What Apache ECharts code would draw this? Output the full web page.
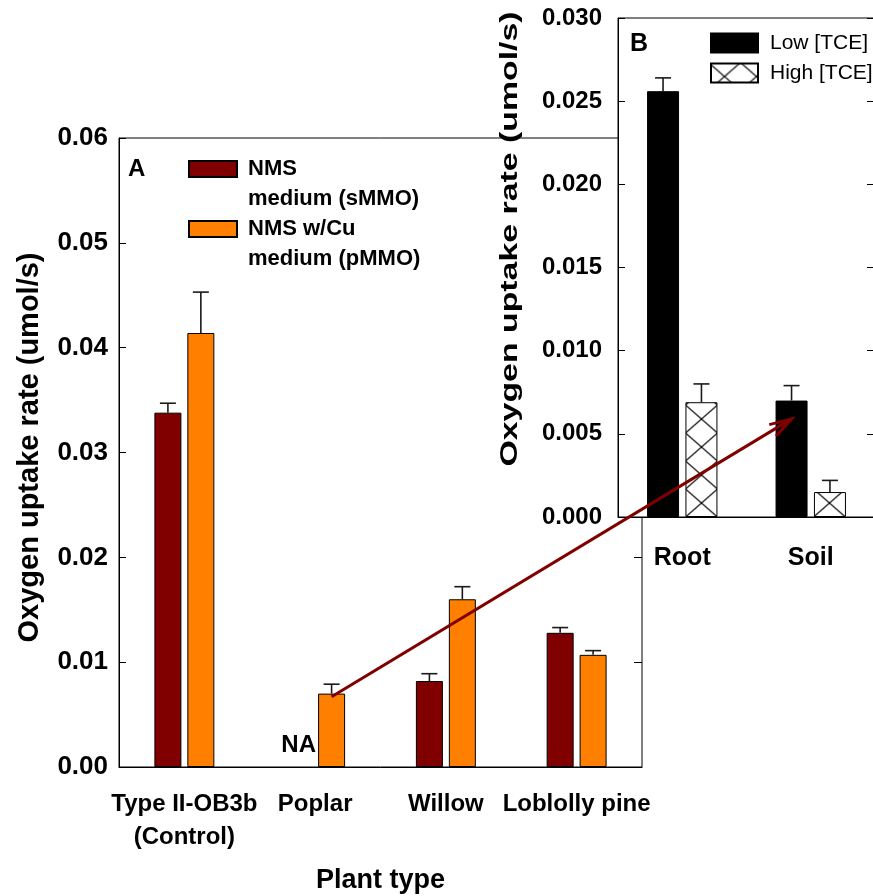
<!DOCTYPE html>
<html>
<head>
<meta charset="utf-8">
<script src="https://cdn.jsdelivr.net/npm/echarts@6/dist/echarts.min.js"></script>
<style>
  html, body { margin: 0; padding: 0; background: #fff; }
  #chart { width: 873px; height: 896px; }
</style>
</head>
<body>
<div id="chart"></div>
<script>
// Panel A: oxygen uptake by enrichment culture per plant type
const categoriesA = ['Type II-OB3b\n(Control)', 'Poplar', 'Willow', 'Loblolly pine'];
const smmoValues = [0.0338, null, 0.0082, 0.0128];   // null = not available
const smmoErrors = [0.0009, null, 0.0007, 0.0005];
const pmmoValues = [0.0414, 0.0070, 0.0160, 0.0107];
const pmmoErrors = [0.0039, 0.0009, 0.0012, 0.0004];

// Panel B: poplar culture, root vs soil, two TCE levels
const categoriesB = ['Root', 'Soil'];
const lowTceValues = [0.0256, 0.0070];
const lowTceErrors = [0.0008, 0.0009];
const highTceValues = [0.0069, 0.0015];
const highTceErrors = [0.0011, 0.0007];

// Arrow from the poplar pMMO bar in A to the soil bar in B (value anchors)
const arrowFrom = { category: 1, value: 0.0067 };
const arrowTo = { category: 1, value: 0.0059 };

const SERIES_A = ['NMS\nmedium (sMMO)', 'NMS w/Cu\nmedium (pMMO)'];
const SERIES_B = ['Low [TCE]', 'High [TCE]'];

const FONT = '"Liberation Sans", Arial, Helvetica, sans-serif';
const BAR_A = 27, GAP_A = 0.22, OFF_A = BAR_A * (1 + GAP_A) / 2;
const BAR_B = 32, GAP_B = 0.2, OFF_B = BAR_B * (1 + GAP_B) / 2;

// Cross-hatch tile for the high-TCE bars
const tile = document.createElement('canvas');
tile.width = 32; tile.height = 28;
(function () {
  const c = tile.getContext('2d');
  c.fillStyle = '#fff';
  c.fillRect(0, 0, 32, 28);
  c.strokeStyle = '#000';
  c.lineWidth = 1.2;
  c.beginPath();
  c.moveTo(0, 0); c.lineTo(32, 28);
  c.moveTo(32, 0); c.lineTo(0, 28);
  c.stroke();
})();
const hatch = { image: tile, repeat: 'repeat', x: 0, y: 0 };

function errorBars(xi, yi, values, errors, sign, offset, z) {
  const data = [];
  values.forEach((v, i) => { if (v != null) data.push([i, v, errors[i]]); });
  return {
    type: 'custom', xAxisIndex: xi, yAxisIndex: yi, z: z, silent: true,
    encode: { x: 0, y: 1 },
    data: data,
    renderItem: function (params, api) {
      const base = api.coord([api.value(0), api.value(1)]);
      const top = api.coord([api.value(0), api.value(1) + api.value(2)]);
      const x = base[0] + sign * offset;
      const st = { stroke: '#1a1a1a', lineWidth: 1.6 };
      return {
        type: 'group',
        children: [
          { type: 'line', shape: { x1: x, y1: base[1], x2: x, y2: top[1] }, style: st },
          { type: 'line', shape: { x1: x - 8, y1: top[1], x2: x + 8, y2: top[1] }, style: st }
        ]
      };
    }
  };
}

const tickLabel = (size) => ({ fontFamily: FONT, fontSize: size, fontWeight: 'bold', color: '#000' });

const option = {
  animation: false,
  backgroundColor: '#fff',
  grid: [
    { left: 119, top: 138, width: 523, height: 629, outerBoundsMode: 'none', containLabel: false,
      show: true, borderColor: '#000', borderWidth: 1, z: 0 },
    { left: 618, top: 18, width: 257, height: 499, outerBoundsMode: 'none', containLabel: false,
      show: true, backgroundColor: '#fff', borderColor: '#000', borderWidth: 1, z: 1 }
  ],
  xAxis: [
    {
      type: 'category', gridIndex: 0, data: categoriesA,
      axisLine: { lineStyle: { color: '#000', width: 1 } },
      axisTick: { alignWithLabel: true, inside: false, length: 9, lineStyle: { color: '#000' } },
      axisLabel: Object.assign(tickLabel(24), { interval: 0, margin: 21, lineHeight: 33 }),
      name: 'Plant type', nameLocation: 'middle', nameGap: 100,
      nameTextStyle: { fontFamily: FONT, fontSize: 27, fontWeight: 'bold', color: '#000', lineHeight: 27 }
    },
    {
      type: 'category', gridIndex: 1, data: categoriesB, z: 3,
      axisLine: { lineStyle: { color: '#000', width: 1 } },
      axisTick: { alignWithLabel: true, inside: false, length: 8, lineStyle: { color: '#000' } },
      axisLabel: Object.assign(tickLabel(25), { interval: 0, margin: 27, lineHeight: 28 })
    }
  ],
  yAxis: [
    {
      type: 'value', gridIndex: 0, min: 0, max: 0.06, interval: 0.01,
      axisLine: { show: true, lineStyle: { color: '#000', width: 1 } },
      axisTick: { show: true, inside: true, length: 7, lineStyle: { color: '#000' } },
      axisLabel: Object.assign(tickLabel(26), { margin: 11, formatter: v => v.toFixed(2) }),
      splitLine: { show: false },
      name: 'Oxygen uptake rate (umol/s)', nameLocation: 'middle', nameGap: 75,
      nameTextStyle: { fontFamily: FONT, fontSize: 29, fontWeight: 'bold', color: '#000', padding: [0, 0, 0, 10] }
    },
    {
      type: 'value', gridIndex: 0, position: 'right', min: 0, max: 0.06, interval: 0.01,
      axisLine: { show: false },
      axisTick: { show: true, inside: true, length: 8, lineStyle: { color: '#000' } },
      axisLabel: { show: false }, splitLine: { show: false }
    },
    {
      type: 'value', gridIndex: 1, min: 0, max: 0.03, interval: 0.005, z: 3,
      axisLine: { show: true, lineStyle: { color: '#000', width: 1 } },
      axisTick: { show: true, inside: true, length: 7, lineStyle: { color: '#000' } },
      axisLabel: Object.assign(tickLabel(24), { margin: 16, formatter: v => v.toFixed(3) }),
      splitLine: { show: false }
    },
    {
      type: 'value', gridIndex: 1, position: 'right', min: 0, max: 0.03, interval: 0.005, z: 3,
      axisLine: { show: false },
      axisTick: { show: true, inside: true, length: 8, lineStyle: { color: '#000' } },
      axisLabel: { show: false }, splitLine: { show: false }
    }
  ],
  legend: [
    {
      // an empty leading line keeps the first text line level with the swatch
      data: SERIES_A, orient: 'vertical', left: 188, top: 124, padding: 0,
      itemWidth: 48, itemHeight: 16, itemGap: -30, icon: 'rect', selectedMode: false,
      formatter: name => '\n' + name,
      textStyle: { fontFamily: FONT, fontSize: 22, fontWeight: 'bold', color: '#000', lineHeight: 30, padding: [0, 0, 0, 6] }
    },
    {
      data: SERIES_B, orient: 'vertical', left: 710, top: 31, padding: 0,
      itemWidth: 47, itemHeight: 19, itemGap: 6, icon: 'rect', selectedMode: false,
      textStyle: { fontFamily: FONT, fontSize: 21, color: '#000', lineHeight: 24, padding: [0, 0, 0, 7] }
    }
  ],
  series: [
    {
      name: SERIES_A[0], type: 'bar', xAxisIndex: 0, yAxisIndex: 0,
      barWidth: BAR_A, barGap: (GAP_A * 100) + '%',
      itemStyle: { color: '#800000', borderColor: '#000', borderWidth: 1 },
      data: smmoValues.map(v => v == null ? {
        value: 0,
        itemStyle: { color: 'transparent', borderWidth: 0 },
        label: { show: true, formatter: 'NA', position: 'top', distance: 10, fontFamily: FONT, fontSize: 24, fontWeight: 'bold', color: '#000' }
      } : v)
    },
    {
      name: SERIES_A[1], type: 'bar', xAxisIndex: 0, yAxisIndex: 0,
      barWidth: BAR_A, barGap: (GAP_A * 100) + '%',
      itemStyle: { color: '#ff8000', borderColor: '#000', borderWidth: 1 },
      data: pmmoValues
    },
    errorBars(0, 0, smmoValues, smmoErrors, -1, OFF_A, 3),
    errorBars(0, 0, pmmoValues, pmmoErrors, 1, OFF_A, 3),
    {
      name: SERIES_B[0], type: 'bar', xAxisIndex: 1, yAxisIndex: 2, z: 4,
      barWidth: BAR_B, barGap: (GAP_B * 100) + '%',
      itemStyle: { color: '#000', borderColor: '#000', borderWidth: 1 },
      data: lowTceValues
    },
    {
      id: 'high', name: SERIES_B[1], type: 'bar', xAxisIndex: 1, yAxisIndex: 2, z: 4,
      barWidth: BAR_B, barGap: (GAP_B * 100) + '%',
      itemStyle: { color: hatch, borderColor: '#000', borderWidth: 1 },
      data: highTceValues
    },
    errorBars(1, 2, lowTceValues, lowTceErrors, -1, OFF_B, 5),
    errorBars(1, 2, highTceValues, highTceErrors, 1, OFF_B, 5)
  ]
};

const chart = echarts.init(document.getElementById('chart'), null, { renderer: 'canvas' });
chart.setOption(option);

// Align the hatch so a crossing sits at the centre of each high-TCE bar
const hb = chart.convertToPixel({ gridIndex: 1 }, [0, 0]);
hatch.x = hb[0] + OFF_B - 16;
hatch.y = hb[1];

// Arrow linking the poplar bar in A to the soil bars in B
const p0 = chart.convertToPixel({ gridIndex: 0 }, [arrowFrom.category, arrowFrom.value]);
p0[0] += OFF_A;
const p1 = chart.convertToPixel({ gridIndex: 1 }, [arrowTo.category, arrowTo.value]);
p1[0] -= OFF_B;
const back = Math.atan2(p0[1] - p1[1], p0[0] - p1[0]);
const HEAD = 23, SPREAD = 0.29;
const arm = (a) => [p1[0] + HEAD * Math.cos(back + a), p1[1] + HEAD * Math.sin(back + a)];

option.graphic = [
  {
    type: 'text', left: 128, top: 157, z: 20,
    style: { text: 'A', font: 'bold 24px ' + FONT, fill: '#000' }
  },
  {
    type: 'text', left: 630, top: 32, z: 20,
    style: { text: 'B', font: 'bold 25px ' + FONT, fill: '#000' }
  },
  {
    type: 'text', x: 510, y: 239, rotation: Math.PI / 2, scaleX: 1.41, z: 20,
    style: { text: 'Oxygen uptake rate (umol/s)', font: 'bold 24px ' + FONT, fill: '#000', align: 'center', verticalAlign: 'middle' }
  },
  {
    type: 'line', z: 30, silent: true,
    shape: { x1: p0[0], y1: p0[1], x2: p1[0], y2: p1[1] },
    style: { stroke: '#800000', lineWidth: 3 }
  },
  {
    type: 'polyline', z: 30, silent: true,
    shape: { points: [arm(SPREAD), p1, arm(-SPREAD)] },
    style: { stroke: '#800000', lineWidth: 3, fill: null, lineJoin: 'miter' }
  }
];
chart.setOption(option, true);
</script>
</body>
</html>
